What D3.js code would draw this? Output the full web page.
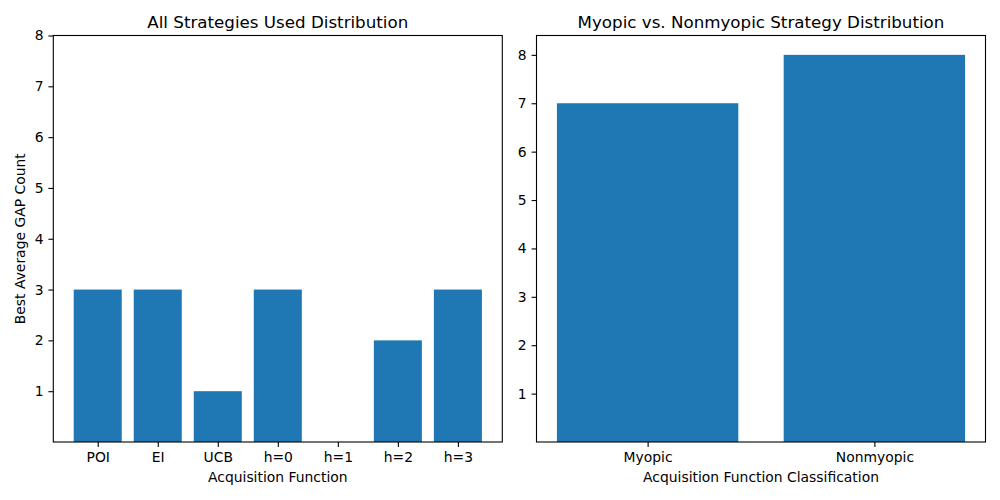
<!DOCTYPE html>
<html>
<head>
<meta charset="utf-8">
<script src="https://cdn.jsdelivr.net/npm/d3@7"></script>
<style>
  body { margin: 0; background: #fff; }
  text { font-family: "DejaVu Sans", sans-serif; }
</style>
</head>
<body>
<div id="chart"></div>
<script>
// left panel
const strategies = ["POI", "EI", "UCB", "h=0", "h=1", "h=2", "h=3"];
const strategyCounts = [3, 3, 1, 3, 0, 2, 3];
// right panel
const classes = ["Myopic", "Nonmyopic"];
const classCounts = [7, 8];
const yTicks = [1, 2, 3, 4, 5, 6, 7, 8];

const svg = d3.select("#chart")
    .append("svg")
    .attr("width", 1000)
    .attr("height", 500);

const blue = "#1f77b4";

function panel(cfg) {
    const {x0, x1, y0, y1, cats, vals, yMax, title, xlabel, ylabel} = cfg;
    const n = cats.length;
    // matplotlib-style margins on a categorical axis
    const span = (n - 1) + 0.8;
    const pad = span * 0.05;
    const x = d3.scaleLinear()
        .domain([-0.4 - pad, n - 1 + 0.4 + pad])
        .range([x0, x1]);
    const y = d3.scaleLinear().domain([0, yMax]).range([y1, y0]);

    const g = svg.append("g");

    g.selectAll("rect")
        .data(vals)
        .join("rect")
        .attr("x", (d, i) => x(i - 0.4))
        .attr("width", x(0.8) - x(0))
        .attr("y", d => y(d))
        .attr("height", d => y(0) - y(d))
        .attr("fill", blue);

    const xAxis = d3.axisBottom(x)
        .tickValues(d3.range(n))
        .tickFormat(i => cats[i])
        .tickSize(4.9)
        .tickPadding(4.9);
    const gx = g.append("g")
        .attr("transform", `translate(0,${y1})`)
        .call(xAxis);
    gx.select(".domain").remove();

    const yAxis = d3.axisLeft(y)
        .tickValues(yTicks)
        .tickFormat(d3.format("d"))
        .tickSize(4.9)
        .tickPadding(4.9);
    const gy = g.append("g")
        .attr("transform", `translate(${x0},0)`)
        .call(yAxis);
    gy.select(".domain").remove();

    g.selectAll(".tick text")
        .attr("font-size", 13.9)
        .attr("fill", "#000")
        .style("font-family", "DejaVu Sans, sans-serif");
    g.selectAll(".tick line").attr("stroke", "#000").attr("stroke-width", 1.1);

    g.append("rect")
        .attr("x", x0).attr("y", y0)
        .attr("width", x1 - x0).attr("height", y1 - y0)
        .attr("fill", "none")
        .attr("stroke", "#000")
        .attr("stroke-width", 1.1);

    g.append("text")
        .attr("x", (x0 + x1) / 2)
        .attr("y", y0 - 8)
        .attr("text-anchor", "middle")
        .attr("font-size", 16.7)
        .text(title);

    g.append("text")
        .attr("x", (x0 + x1) / 2)
        .attr("y", y1 + 40)
        .attr("text-anchor", "middle")
        .attr("font-size", 13.9)
        .text(xlabel);

    if (ylabel) {
        g.append("text")
            .attr("transform", `translate(${x0 - 28},${(y0 + y1) / 2}) rotate(-90)`)
            .attr("text-anchor", "middle")
            .attr("font-size", 13.9)
            .text(ylabel);
    }
}

panel({
    x0: 53.3, x1: 502.3, y0: 35.5, y1: 442,
    cats: strategies, vals: strategyCounts, yMax: 8,
    title: "All Strategies Used Distribution",
    xlabel: "Acquisition Function",
    ylabel: "Best Average GAP Count"
});

panel({
    x0: 536.5, x1: 985.5, y0: 35.5, y1: 442,
    cats: classes, vals: classCounts, yMax: 8.4,
    title: "Myopic vs. Nonmyopic Strategy Distribution",
    xlabel: "Acquisition Function Classification"
});
</script>
</body>
</html>
